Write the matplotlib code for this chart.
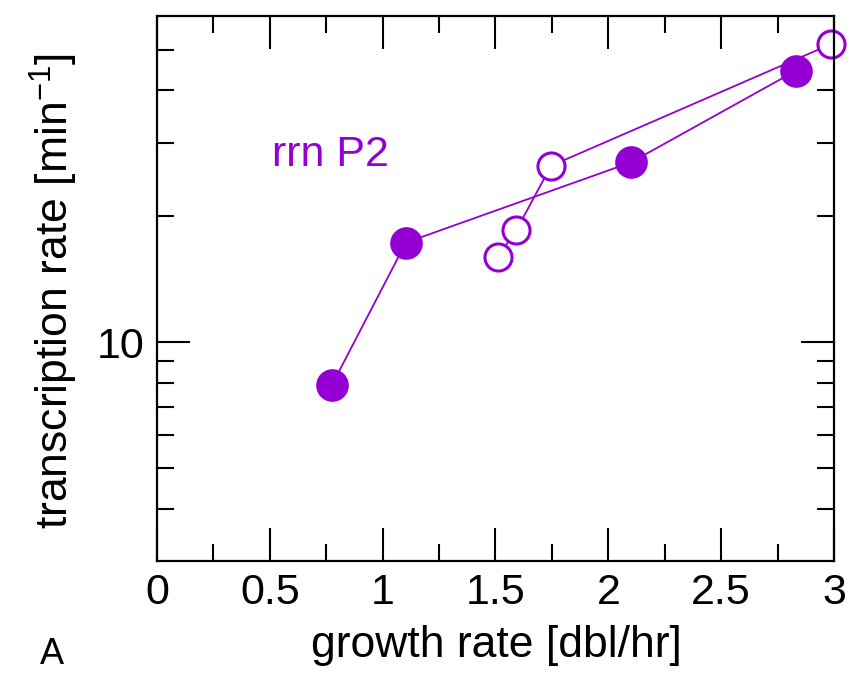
import numpy as np
import matplotlib
matplotlib.use("Agg")
import matplotlib.pyplot as plt
from matplotlib.ticker import FixedLocator, NullFormatter, FixedFormatter

plt.rcParams['font.family'] = ['Liberation Sans', 'DejaVu Sans']
plt.rcParams['mathtext.default'] = 'regular'

purple = '#9400d3'

# filled symbols (connected)
growth_filled = [0.775, 1.103, 2.100, 2.833]
rate_filled = [7.9, 17.3, 26.9, 44.6]

# open symbols (connected)
growth_open = [1.510, 1.592, 1.746, 2.988]
rate_open = [16.0, 18.5, 26.4, 51.6]

fig = plt.figure(figsize=(8.54, 6.75), dpi=100)
ax = fig.add_axes([157/854, 1 - 561/675, (834-157)/854, (561-16)/675])

ax.plot(growth_filled, rate_filled, '-', color=purple, lw=1.3,
        marker='o', ms=22, mfc=purple, mec=purple, mew=1.5, clip_on=False, zorder=2)
ax.plot(growth_open, rate_open, '-', color=purple, lw=1.3,
        marker='o', ms=19.5, mfc='white', mec=purple, mew=2.2, clip_on=False, zorder=2)

ax.set_yscale('log')
ax.set_xlim(0, 3)
ax.set_ylim(3.0, 60.2)

ax.xaxis.set_major_locator(FixedLocator([0, 0.5, 1, 1.5, 2, 2.5, 3]))
ax.xaxis.set_major_formatter(FixedFormatter(['0', '0.5', '1', '1.5', '2', '2.5', '3']))
ax.xaxis.set_minor_locator(FixedLocator([0.25, 0.75, 1.25, 1.75, 2.25, 2.75]))
ax.yaxis.set_major_locator(FixedLocator([10]))
ax.yaxis.set_major_formatter(FixedFormatter(['10']))
ax.yaxis.set_minor_locator(FixedLocator([4, 5, 6, 7, 8, 9, 20, 30, 40, 50]))
ax.yaxis.set_minor_formatter(NullFormatter())

ax.tick_params(which='both', direction='in', top=True, right=True,
               width=1.5, labelsize=31, pad=9, color='black')
ax.tick_params(which='major', length=24)
ax.tick_params(which='minor', length=12)
for s in ax.spines.values():
    s.set_linewidth(1.6)

ax.set_xlabel('growth rate [dbl/hr]', fontsize=32)
ax.set_ylabel('transcription rate [min$^{-1}$]', fontsize=32)
ax.xaxis.set_label_coords(0.501, -0.118)
ax.yaxis.set_label_coords(-0.114, 0.495)

ax.text(0.51, 28, 'rrn P2', color=purple, fontsize=31, ha='left', va='center')

fig.text(40/854, 1 - 664/675, 'A', fontsize=26, ha='left', va='baseline')

fig.savefig('out.png', dpi=100)
